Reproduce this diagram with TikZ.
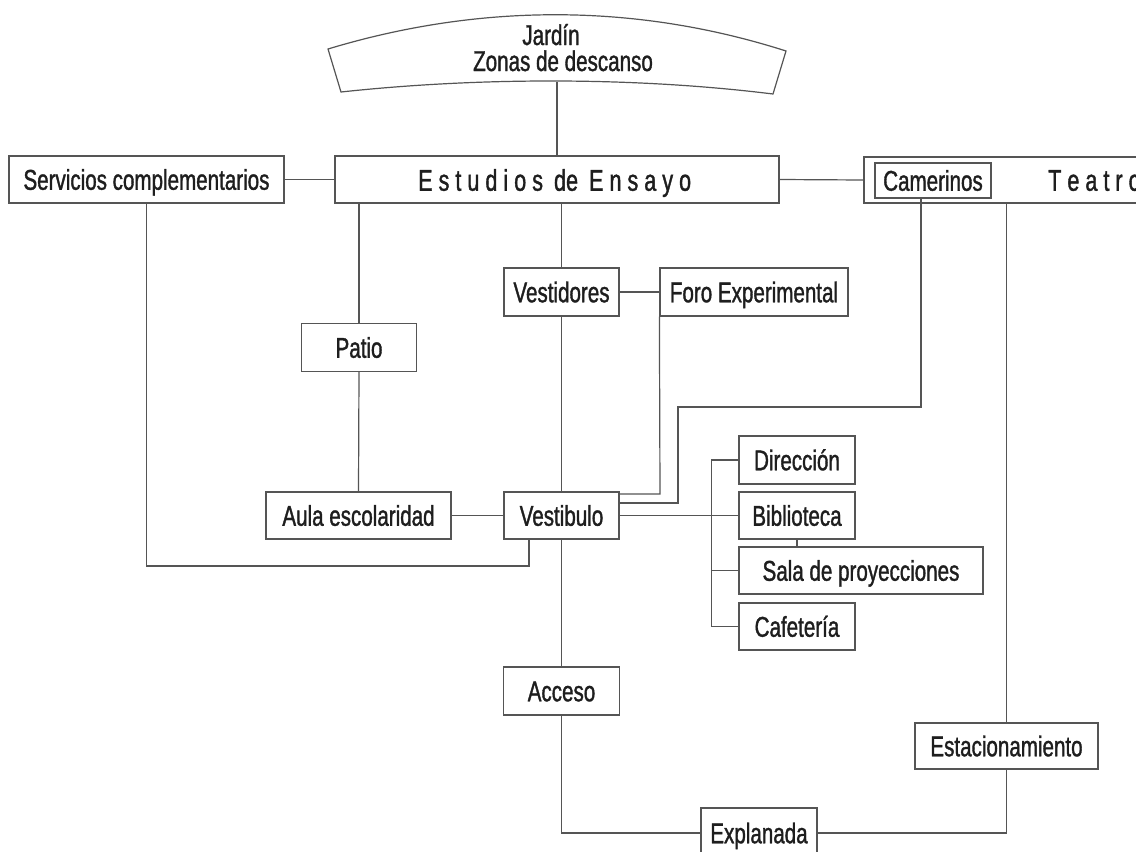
\documentclass[tikz,border=0pt]{standalone}
\usepackage{fontspec}
\setmainfont{Liberation Sans}[FakeStretch=0.72,FakeBold=1.2]
\definecolor{linec}{HTML}{555555}
\definecolor{textc}{HTML}{1E1E1E}
\begin{document}
\begin{tikzpicture}[x=1pt,y=-1pt,
  txtf/.style={text=textc, font=\fontsize{28.6pt}{30pt}\selectfont, text height=20.5pt, text depth=0pt},
  bigf/.style={text=textc, font=\fontsize{30pt}{32pt}\selectfont, text height=21.5pt, text depth=0pt},
  box/.style={draw=linec, line width=1.2pt, inner sep=0pt, txtf},
  lbl/.style={inner sep=0pt, txtf},
  conn/.style={draw=linec, line width=1.2pt}]
\useasboundingbox (0,0) rectangle (1136,852);
\clip (0,0) rectangle (1136,852);
\fill[white] (0,0) rectangle (1136,852);

% Jardin shape
\draw[conn] (328,49) .. controls (480,3) and (636,3) .. (786,51) -- (773,94) .. controls (636,77) and (480,77) .. (341,92) -- cycle;
\coordinate (jb) at (557,82);
\node[lbl, anchor=base] (jardin) at (551,45) {Jardín};
\node[lbl, anchor=base] (zonas) at (563,71) {Zonas de descanso};

% top row
\node[box, minimum width=275pt, minimum height=47pt] (serv) at (146.5,179.5) {Servicios complementarios};
\node[box, bigf, minimum width=444pt, minimum height=47pt] (estud) at (557,179.5) {};
\node[lbl, bigf, anchor=west] (estudtxt) at (418,180) {E s t u d i o s\hspace{5pt} de\hspace{5pt} E n s a y o};
\node[box, minimum width=296pt, minimum height=46pt] (teatro) at (1012,180) {};
\node[box, minimum width=116pt, minimum height=35pt] (cam) at (933,180.5) {Camerinos};
\node[lbl, bigf, anchor=west] (teatrotxt) at (1048,180) {T e a t r o};

% middle
\node[box, minimum width=115pt, minimum height=48pt] (vestid) at (561.5,292) {Vestidores};
\node[box, minimum width=188pt, minimum height=48pt] (foro) at (754,292) {Foro Experimental};
\node[box, minimum width=115pt, minimum height=48pt] (patio) at (359,347.5) {Patio};
\node[box, minimum width=185pt, minimum height=47pt] (aula) at (358.5,515.5) {Aula escolaridad};
\node[box, minimum width=115pt, minimum height=47pt] (vestib) at (561.5,515.5) {Vestibulo};

% right column
\node[box, minimum width=116pt, minimum height=48pt] (dir) at (797,460) {Dirección};
\node[box, minimum width=116pt, minimum height=47pt] (bib) at (797,515.5) {Biblioteca};
\node[box, minimum width=244pt, minimum height=47pt] (sala) at (861,570.5) {Sala de proyecciones};
\node[box, minimum width=116pt, minimum height=47pt] (caf) at (797,626.5) {Cafetería};

% bottom
\node[box, minimum width=116pt, minimum height=48pt] (acceso) at (561.5,691) {Acceso};
\node[box, minimum width=183pt, minimum height=46pt] (estac) at (1006.5,746) {Estacionamiento};
\node[box, minimum width=116pt, minimum height=50pt] (expl) at (759,833) {Explanada};

% connectors
\draw[conn] (jb) -- (jb |- estud.north);
\draw[conn] (serv.east) -- (estud.west);
\draw[conn] (estud.east) -- (teatro.west);
\coordinate (s1) at (529,566);
\draw[conn] (serv.south) |- (s1) -- (s1 |- vestib.south);
\draw[conn] (patio.north |- estud.south) -- (patio.north);
\draw[conn] (patio.south) -- (aula.north);
\draw[conn] (aula.east) -- (vestib.west);
\draw[conn] (vestid.north |- estud.south) -- (vestid.north);
\draw[conn] (vestid.south) -- (vestib.north);
\draw[conn] (vestid.east) -- (foro.west);
\coordinate (f1) at (660,494);
\draw[conn] (foro.south west) -- (f1) -- (f1 -| vestib.east);
\coordinate (k1) at (678,407);
\draw[conn] ([xshift=-12pt]cam.south) |- (k1) |- ([yshift=12.5pt]vestib.east);
\draw[conn] (vestib.east) -- (bib.west);
\draw[conn] (dir.west) -- ++(-27,0) |- (caf.west);
\draw[conn] (sala.west) -- ++(-27,0);
\draw[conn] (bib.south) -- (bib.south |- sala.north);
\draw[conn] (vestib.south) -- (acceso.north);
\draw[conn] (acceso.south) |- (expl.west);
\draw[conn] (expl.east) -| (estac.south);
\draw[conn] (estac.north) -- (estac.north |- teatro.south);
\end{tikzpicture}
\end{document}
